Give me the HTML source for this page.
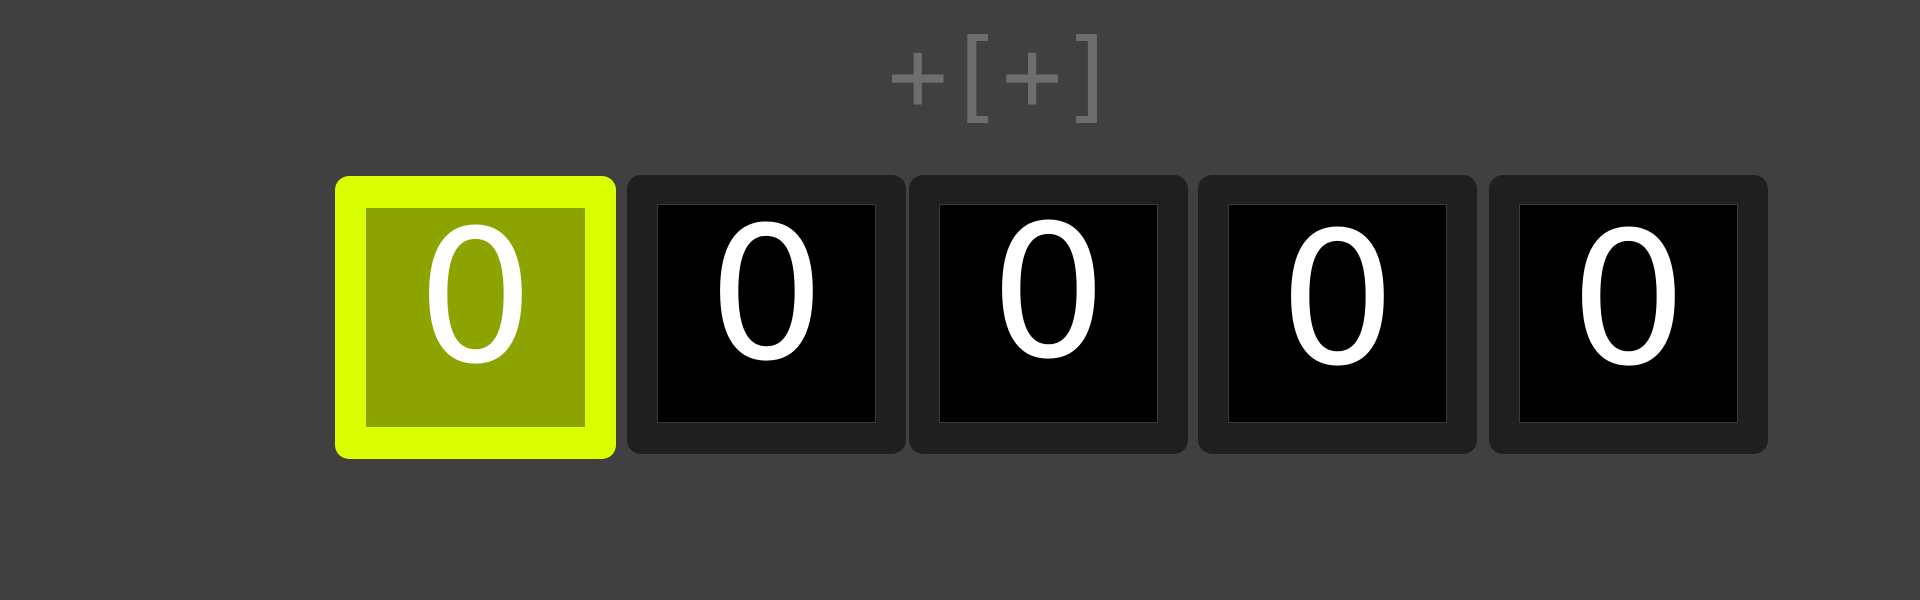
<!DOCTYPE html>
<html><head><meta charset="utf-8"><style>
html,body{margin:0;padding:0;width:1920px;height:600px;background:#404040;overflow:hidden}
.title{position:absolute;left:876px;top:14px;width:252px;text-align:center;font-family:"DejaVu Sans Mono","Liberation Mono",monospace;font-size:100px;color:#6e6e6e;line-height:124px;letter-spacing:-3px}
.box{position:absolute;top:175px;width:279px;height:279px;background:#1f1f1f;border-radius:14px}
.inner{position:absolute;left:30px;top:29px;width:219px;height:219px;background:#000;box-sizing:border-box;border:1px solid #3a3a3a}
.dig{position:absolute;left:0;width:100%;text-align:center;font-family:"DejaVu Sans","Liberation Sans",sans-serif;font-size:184px;color:#fff;line-height:1}
.sel{background:#d9ff00;top:176px;height:283px;width:281px}
.sel .inner{background:#8da300;border:none;left:31px;top:32px;height:219px}
</style></head><body>
<div class="title">+[+]</div>
<div class="box sel" style="left:335px"><div class="inner"></div><div class="dig" style="top:30px">0</div></div>
<div class="box" style="left:627px"><div class="inner"></div><div class="dig" style="top:28px">0</div></div>
<div class="box" style="left:909px"><div class="inner"></div><div class="dig" style="top:26px">0</div></div>
<div class="box" style="left:1198px"><div class="inner"></div><div class="dig" style="top:33px">0</div></div>
<div class="box" style="left:1489px"><div class="inner"></div><div class="dig" style="top:33px">0</div></div>
</body></html>
